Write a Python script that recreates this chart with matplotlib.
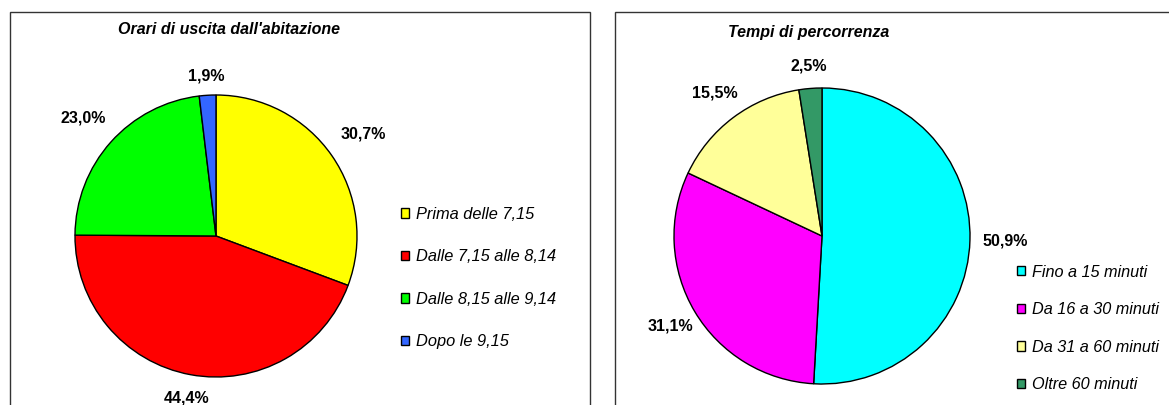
import numpy as np
import matplotlib.pyplot as plt
import matplotlib.patches as mpatches

plt.rcParams['font.family'] = ['Liberation Sans', 'DejaVu Sans']

# data
title_left = "Orari di uscita dall'abitazione"
labels_left = ['Prima delle 7,15', 'Dalle 7,15 alle 8,14', 'Dalle 8,15 alle 9,14', 'Dopo le 9,15']
values_left = [30.7, 44.4, 23.0, 1.9]
colors_left = ['#FFFF00', '#FF0000', '#00FF00', '#3366FF']

title_right = "Tempi di percorrenza"
labels_right = ['Fino a 15 minuti', 'Da 16 a 30 minuti', 'Da 31 a 60 minuti', 'Oltre 60 minuti']
values_right = [50.9, 31.1, 15.5, 2.5]
colors_right = ['#00FFFF', '#FF00FF', '#FFFF99', '#339966']

W, H = 1169, 405
fig = plt.figure(figsize=(W / 100, H / 100), dpi=100)


def px_axes(cx, cy, r):
    # square axes in pixel units, centre (cx, cy) from top-left
    return fig.add_axes([(cx - r) / W, 1 - (cy + r) / H, 2 * r / W, 2 * r / H])


def draw_pie(ax, vals, cols, dist):
    wedges, texts = ax.pie(vals, colors=cols, startangle=90, counterclock=False,
                           labels=[('%.1f%%' % v).replace('.', ',') for v in vals],
                           labeldistance=1.2,
                           wedgeprops=dict(edgecolor='black', linewidth=1))
    for t, d, w in zip(texts, dist, wedges):
        ang = np.deg2rad((w.theta1 + w.theta2) / 2)
        t.set_position((d * np.cos(ang), d * np.sin(ang)))
        t.set_ha('center')
        t.set_va('center')
        t.set_fontsize(11.5)
        t.set_fontweight('bold')
    ax.set_xlim(-1, 1)
    ax.set_ylim(-1, 1)
    ax.axis('off')
    return wedges


# panel frames
fig.patches.append(mpatches.Rectangle((10 / W, -0.1), 580 / W, 1 - 12 / H + 0.1,
                                      transform=fig.transFigure, fill=False,
                                      edgecolor='#333333', linewidth=1))
fig.patches.append(mpatches.Rectangle((615 / W, -0.1), 0.6, 1 - 12 / H + 0.1,
                                      transform=fig.transFigure, fill=False,
                                      edgecolor='#333333', linewidth=1))

ax1 = px_axes(216, 236, 141)
w1 = draw_pie(ax1, values_left, colors_left, [1.27, 1.17, 1.26, 1.14])
ax2 = px_axes(822, 236, 148)
w2 = draw_pie(ax2, values_right, colors_right, [1.24, 1.19, 1.21, 1.15])

fig.text(229 / W, 1 - 30 / H, title_left, ha='center', va='center',
         fontsize=11.5, fontweight='bold', fontstyle='italic')
fig.text(809 / W, 1 - 32 / H, title_right, ha='center', va='center',
         fontsize=11.5, fontweight='bold', fontstyle='italic')

h1 = [mpatches.Patch(facecolor=c, edgecolor='black', linewidth=1) for c in colors_left]
fig.legend(h1, labels_left, loc='upper left', bbox_to_anchor=(386 / W, 1 - 192 / H),
           frameon=False, prop=dict(style='italic', size=11.8),
           handlelength=0.5, handleheight=0.5, handletextpad=0.45, labelspacing=1.68)

h2 = [mpatches.Patch(facecolor=c, edgecolor='black', linewidth=1) for c in colors_right]
fig.legend(h2, labels_right, loc='upper left', bbox_to_anchor=(1002 / W, 1 - 250 / H),
           frameon=False, prop=dict(style='italic', size=11.7),
           handlelength=0.5, handleheight=0.5, handletextpad=0.45, labelspacing=1.39)

fig.savefig('out.png', dpi=100)
